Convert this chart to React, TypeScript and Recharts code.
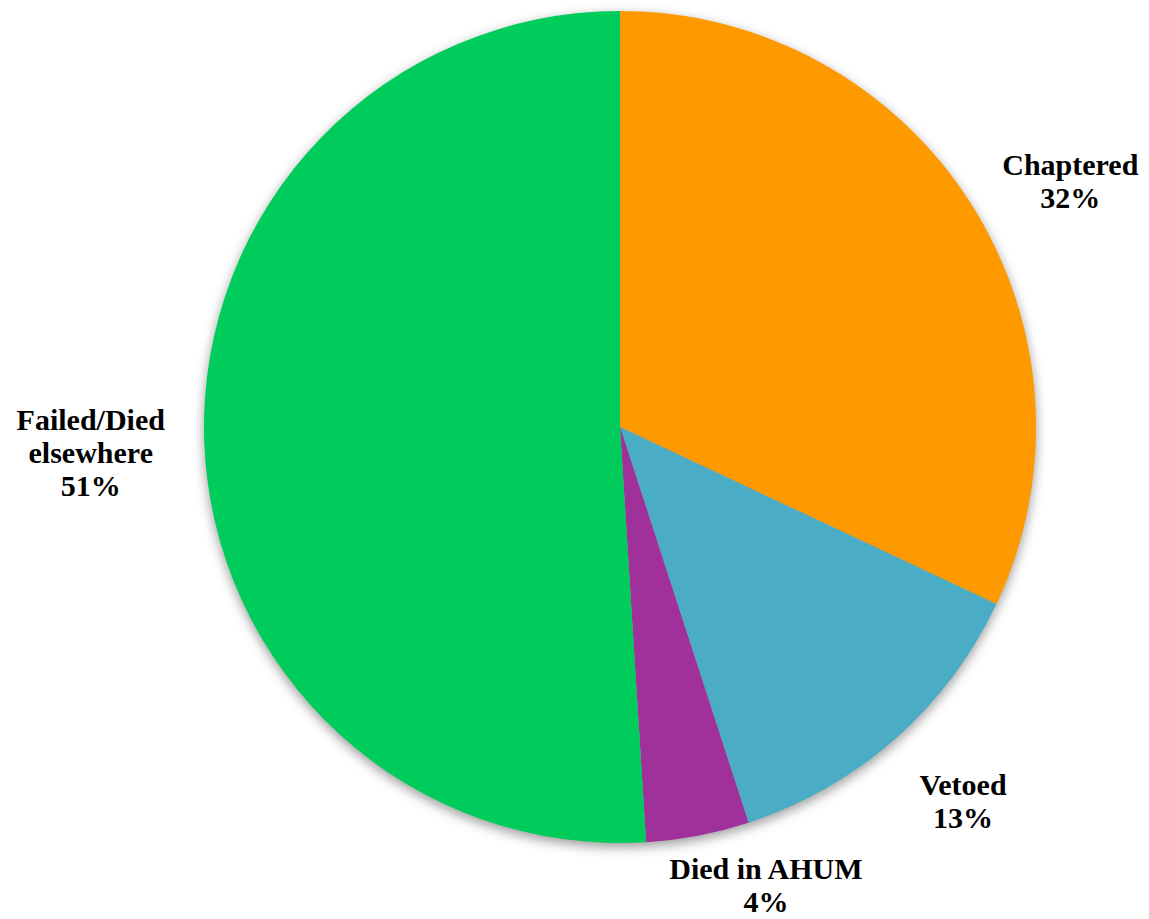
import { PieChart, Pie, Cell } from "recharts";

const categories = ["Chaptered", "Vetoed", "Died in AHUM", "Failed/Died elsewhere"];
const shares = [32, 13, 4, 51];
const labelLines = [["Chaptered"], ["Vetoed"], ["Died in AHUM"], ["Failed/Died", "elsewhere"]];
const sliceColors = ["#FF9900", "#4BACC6", "#A0309A", "#00CC5C"];
// small hand adjustments so the labels sit where the original places them
const labelNudge = [
  [10, 15],
  [13, 9],
  [44, -20],
  [7, 10],
];

const data = categories.map((name, i) => ({ name, value: shares[i] }));

const RAD = Math.PI / 180;
const FONT_SIZE = 30;
const LINE_H = 33;
const GAP = 38;

function renderLabel(props: any) {
  const { cx, cy, midAngle, outerRadius, percent, index } = props;
  const lines = [...labelLines[index], `${Math.round(percent * 100)}%`];
  const longest = Math.max(...lines.map((l) => l.length));
  const w = longest * FONT_SIZE * 0.5;
  const h = lines.length * LINE_H;
  const cos = Math.cos(-midAngle * RAD);
  const sin = Math.sin(-midAngle * RAD);
  const px = cx + (outerRadius + GAP) * cos;
  const py = cy + (outerRadius + GAP) * sin;
  const bx = px + (cos * w) / 2 + labelNudge[index][0];
  const by = py + (sin * h) / 2 + labelNudge[index][1];
  const firstBase = by - ((lines.length - 1) * LINE_H) / 2 + 10;
  return (
    <text
      x={bx}
      y={firstBase}
      textAnchor="middle"
      fill="#000"
      fontFamily="'Liberation Serif', serif"
      fontWeight="bold"
      fontSize={FONT_SIZE}
    >
      {lines.map((l, i) => (
        <tspan key={i} x={bx} y={firstBase + i * LINE_H}>
          {l}
        </tspan>
      ))}
    </text>
  );
}

export default function App() {
  return (
    <div style={{ position: "absolute", left: 0, top: 0, width: 1149, height: 919, background: "#fff" }}>
      <style>
        {".recharts-pie > .recharts-layer:not(.recharts-pie-labels){filter:drop-shadow(0px 4px 6px rgba(0,0,0,0.4));}"}
      </style>
      <PieChart width={1149} height={919} margin={{ top: 0, right: 0, bottom: 0, left: 0 }}>
        <Pie
          data={data}
          dataKey="value"
          nameKey="name"
          cx={620}
          cy={427}
          innerRadius={0}
          outerRadius={416}
          startAngle={90}
          endAngle={-270}
          stroke="none"
          label={renderLabel}
          labelLine={false}
          isAnimationActive={false}
        >
          {data.map((d, i) => (
            <Cell key={d.name} fill={sliceColors[i]} />
          ))}
        </Pie>
      </PieChart>
    </div>
  );
}
